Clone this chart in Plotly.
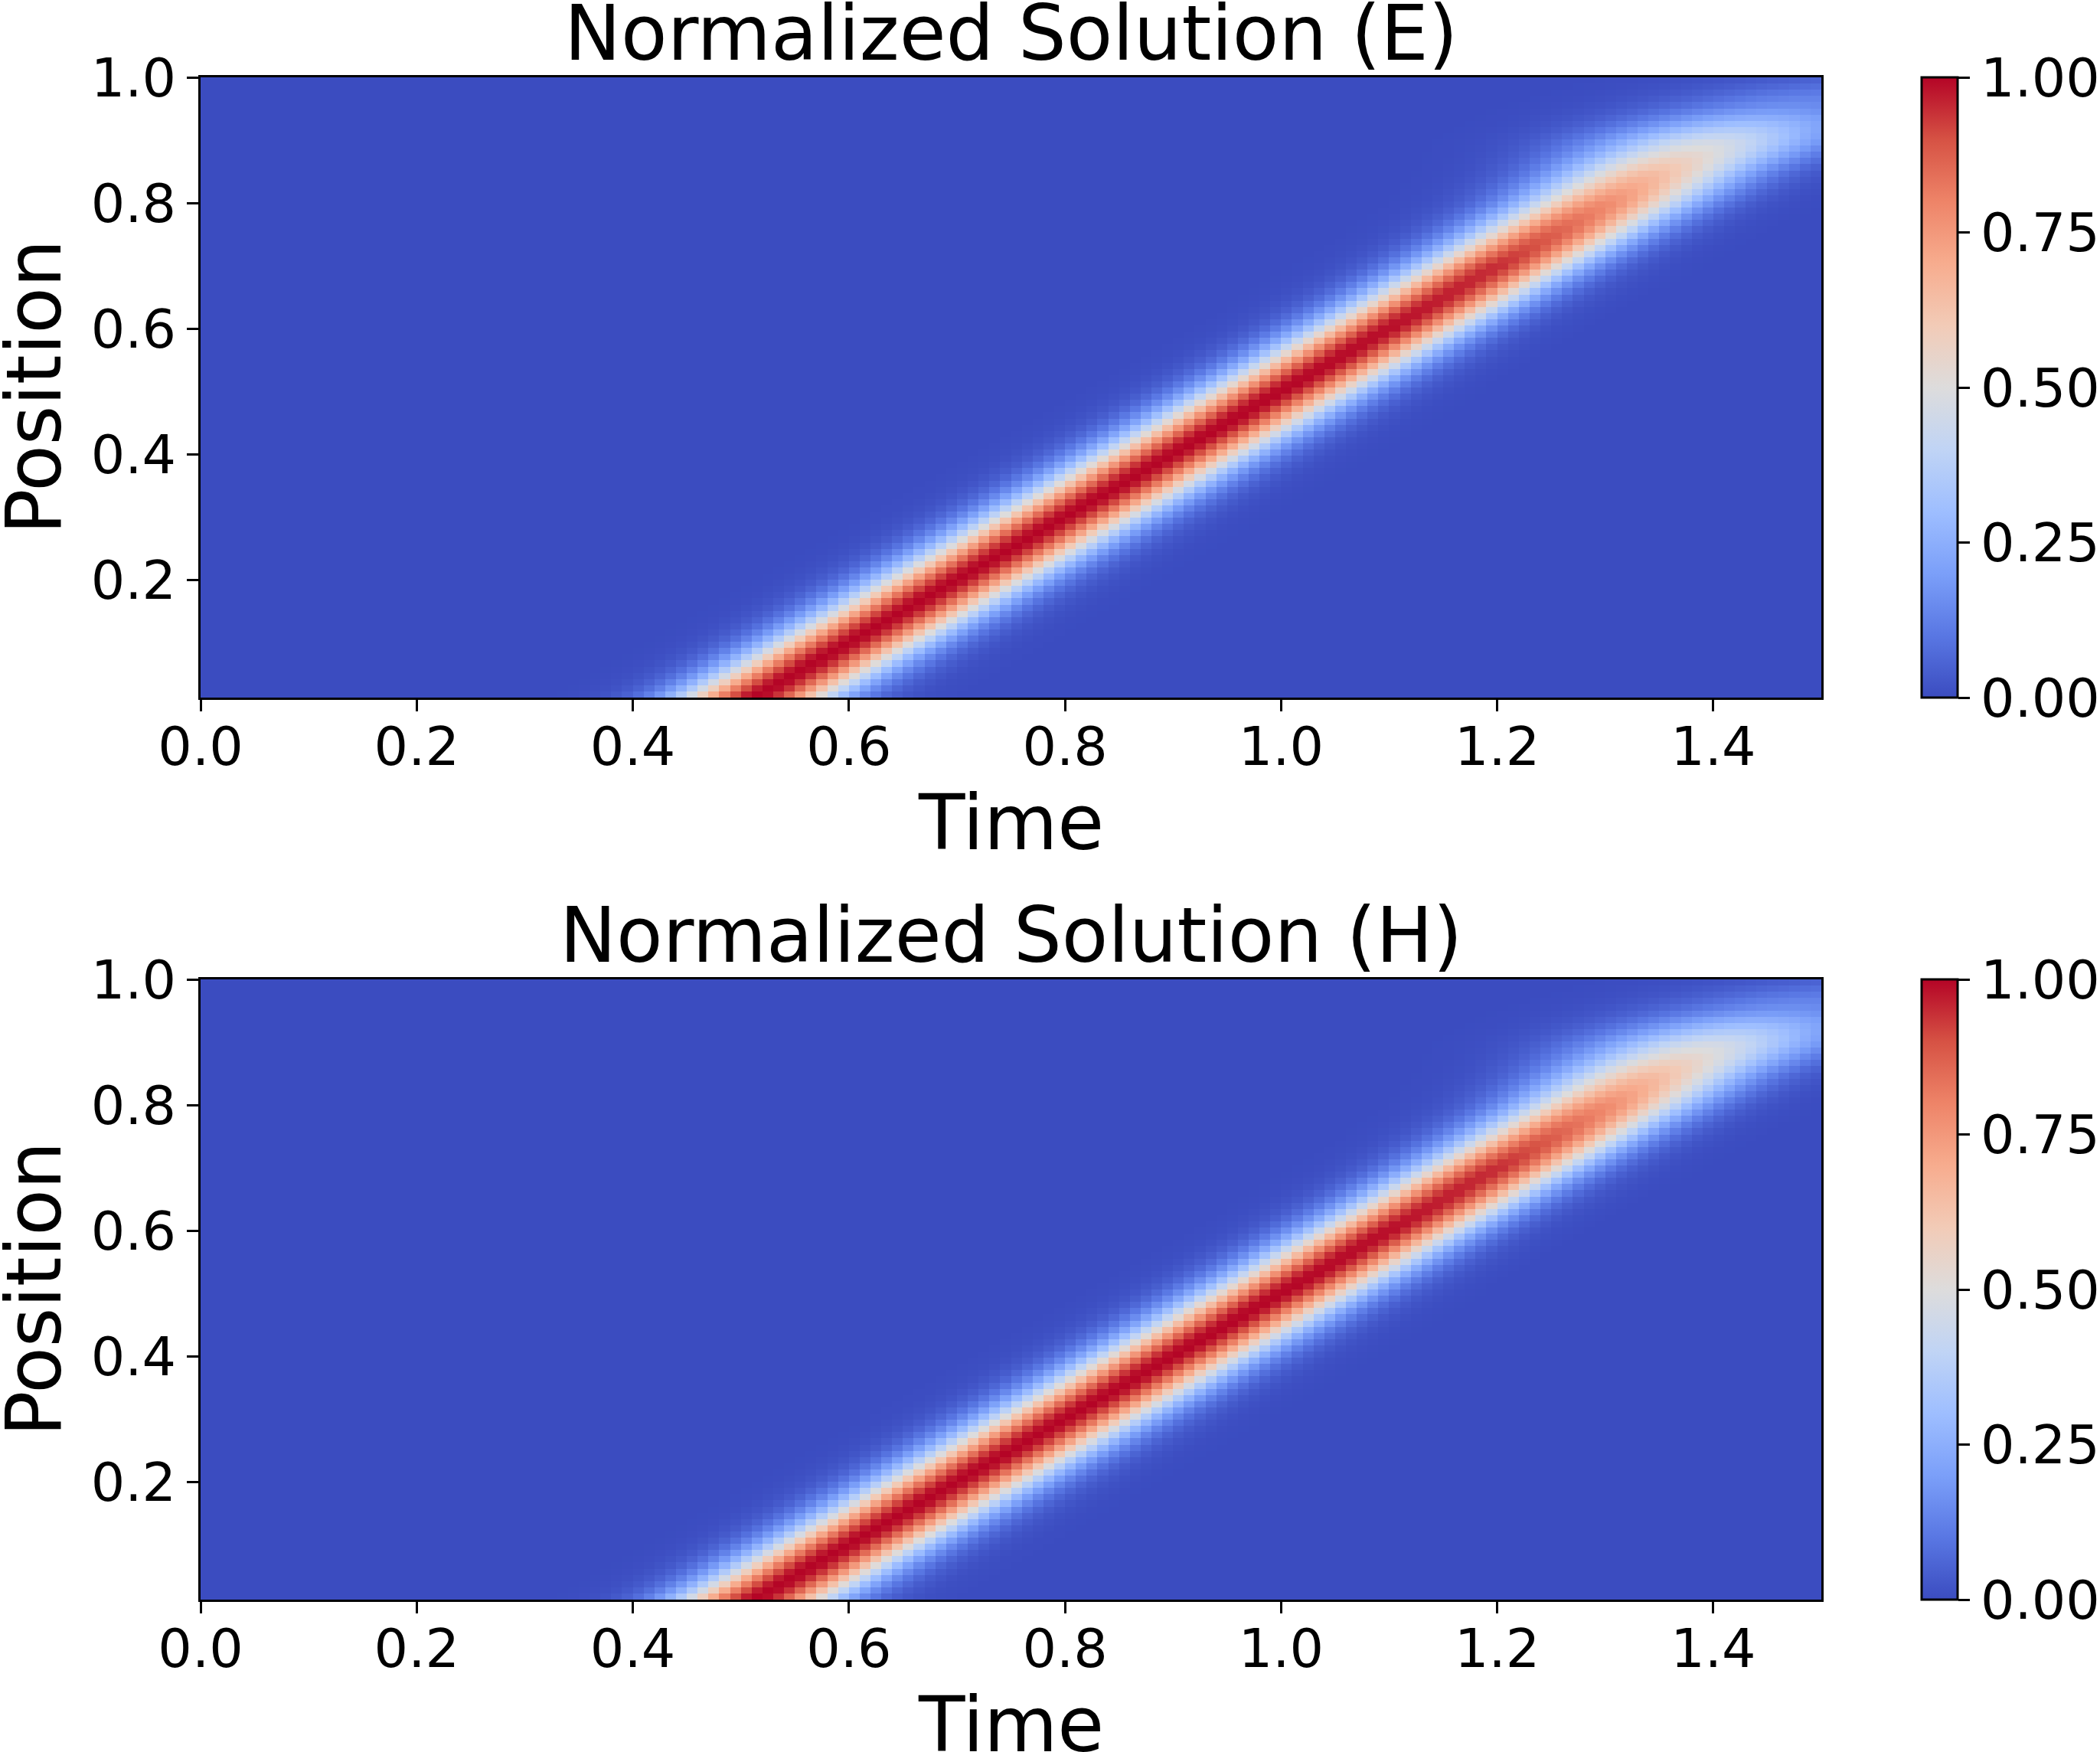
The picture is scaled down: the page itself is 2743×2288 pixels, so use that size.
import numpy as np
import plotly.graph_objects as go

# ---------------- data ----------------
# grid of the solution (time columns x position rows)
time_start, time_stop, n_time = 0.0, 1.5, 150
pos_start, pos_stop, n_pos = 0.0125, 1.0, 100

# ridge description at knot positions
knot_pos   = [0.0, 0.1, 0.2, 0.3, 0.4, 0.5, 0.6, 0.7, 0.75, 0.8, 0.85, 0.9, 0.95, 1.0]
# time at which the pulse peak passes each position
E_peak_time = [0.50, 0.60, 0.70, 0.80, 0.90, 1.00, 1.10, 1.20, 1.25, 1.30, 1.345, 1.40, 1.46, 1.55]
E_pulse_sigma = [0.050, 0.050, 0.050, 0.050, 0.050, 0.050, 0.050, 0.051, 0.053, 0.056, 0.062, 0.075, 0.082, 0.090]
E_peak_amp  = [1.00, 1.00, 1.00, 1.00, 1.00, 1.00, 0.99, 0.95, 0.88, 0.78, 0.64, 0.45, 0.17, 0.05]

H_peak_time = [0.50, 0.60, 0.70, 0.80, 0.90, 1.00, 1.10, 1.20, 1.25, 1.30, 1.345, 1.40, 1.46, 1.55]
H_pulse_sigma = [0.050, 0.050, 0.050, 0.050, 0.050, 0.050, 0.050, 0.051, 0.053, 0.056, 0.062, 0.075, 0.082, 0.090]
H_peak_amp  = [1.00, 1.00, 1.00, 1.00, 1.00, 1.00, 0.99, 0.95, 0.88, 0.78, 0.64, 0.45, 0.17, 0.05]

titles = ["Normalized Solution (E)", "Normalized Solution (H)"]
x_ticks = [0.0, 0.2, 0.4, 0.6, 0.8, 1.0, 1.2, 1.4]
y_ticks = [0.2, 0.4, 0.6, 0.8, 1.0]
cbar_ticks = [0.0, 0.25, 0.5, 0.75, 1.0]

# matplotlib "coolwarm" samples
coolwarm = ["#3b4cc0", "#5977e3", "#7b9ff9", "#9ebeff", "#c0d4f5", "#dddcdc",
            "#f2cbb7", "#f7ac8e", "#ee8468", "#d65244", "#b40426"]

# ---------------- build fields ----------------
dt = (time_stop - time_start) / n_time
dp = (pos_stop - pos_start) / n_pos
t_centers = time_start + dt * (np.arange(n_time) + 0.5)
p_centers = pos_start + dp * (np.arange(n_pos) + 0.5)


def field(peak_time, sigma, amp):
    tc = np.interp(p_centers, knot_pos, peak_time)[:, None]
    sg = np.interp(p_centers, knot_pos, sigma)[:, None]
    a = np.interp(p_centers, knot_pos, amp)[:, None]
    z = a * np.exp(-((t_centers[None, :] - tc) ** 2) / (2 * sg ** 2))
    return z / z.max()


fields = [field(E_peak_time, E_pulse_sigma, E_peak_amp),
          field(H_peak_time, H_pulse_sigma, H_peak_amp)]

# ---------------- layout geometry ----------------
W, H = 2743, 2288
L, R, T, B = 262, 2743 - 2379, 101, 2288 - 2089
plot_h = 810
gap = 368
tot_h = H - T - B
dom_bottom = [0.0, plot_h / tot_h]
dom_top = [(plot_h + gap) / tot_h, 1.0]
domains = [dom_top, dom_bottom]
plot_w = W - L - R

cs = [[i / (len(coolwarm) - 1), c] for i, c in enumerate(coolwarm)]
FONT = "DejaVu Sans"
TICK_SIZE = 70
LABEL_SIZE = 99

fig = go.Figure()
annotations = []
for k in range(2):
    xa = "x" if k == 0 else "x2"
    ya = "y" if k == 0 else "y2"
    d = domains[k]
    fig.add_trace(go.Heatmap(
        z=fields[k], x=t_centers, y=p_centers,
        xaxis=xa, yaxis=ya,
        colorscale=cs, zmin=0, zmax=1,
        zsmooth=False, hoverinfo="skip",
        colorbar=dict(
            x=(2510 - L) / plot_w, xanchor="left", xpad=0,
            y=(d[0] + d[1]) / 2, yanchor="middle", ypad=0,
            len=d[1] - d[0], lenmode="fraction",
            thickness=47, thicknessmode="pixels",
            outlinewidth=3, outlinecolor="black",
            ticks="outside", ticklen=15, tickwidth=3, tickcolor="black",
            tickvals=cbar_ticks, ticktext=["%.2f" % v for v in cbar_ticks],
            tickfont=dict(family=FONT, size=TICK_SIZE, color="black"),
        ),
    ))
    axis_common = dict(
        showline=True, linewidth=3, linecolor="black", mirror=True,
        ticks="outside", ticklen=15, tickwidth=3, tickcolor="black",
        showgrid=False, zeroline=False,
        tickfont=dict(family=FONT, size=TICK_SIZE, color="black"),
    )
    xkey = "xaxis" if k == 0 else "xaxis2"
    ykey = "yaxis" if k == 0 else "yaxis2"
    fig.update_layout({
        xkey: dict(axis_common, domain=[0, 1], anchor=ya, range=[time_start, time_stop],
                   tickvals=x_ticks, ticktext=["%.1f" % v for v in x_ticks],
                   ticklabelstandoff=-14),
        ykey: dict(axis_common, domain=d, anchor=xa, range=[pos_start, pos_stop],
                   tickvals=y_ticks, ticktext=["%.1f" % v for v in y_ticks]),
    })
    annotations.append(dict(
        text=titles[k], x=0.5, y=d[1], xref="paper", yref="paper",
        xanchor="center", yanchor="bottom", yshift=-2, showarrow=False,
        font=dict(family=FONT, size=LABEL_SIZE, color="black")))
    annotations.append(dict(
        text="Time", x=0.5, y=d[0], xref="paper", yref="paper",
        xanchor="center", yanchor="top", yshift=-104, showarrow=False,
        font=dict(family=FONT, size=LABEL_SIZE, color="black")))
    annotations.append(dict(
        text="Position", x=(44 - L) / plot_w, y=(d[0] + d[1]) / 2,
        xref="paper", yref="paper", textangle=-90,
        xanchor="center", yanchor="middle", showarrow=False,
        font=dict(family=FONT, size=LABEL_SIZE, color="black")))

fig.update_layout(
    width=W, height=H,
    margin=dict(l=L, r=R, t=T, b=B, autoexpand=False),
    paper_bgcolor="white", plot_bgcolor="white",
    annotations=annotations,
    showlegend=False,
)

fig.write_html("out.html")
